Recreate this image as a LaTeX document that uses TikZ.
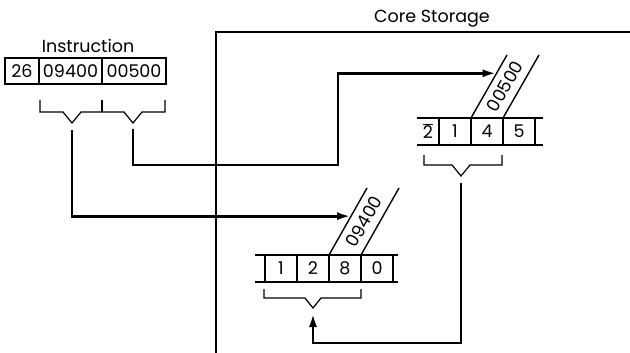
\documentclass[tikz,border=0pt]{standalone}
\usepackage{fontspec}
\setmainfont{Poppins}
\usetikzlibrary{positioning,calc,arrows.meta}

\begin{document}
\begin{tikzpicture}[x=1pt, y=-1pt,
    every node/.style={font=\fontsize{17.5}{20}\selectfont, inner sep=0pt, outer sep=0pt},
    cell/.style={draw, line width=1.4pt, minimum width=32pt, minimum height=27pt},
    rule/.style={line width=1.4pt},
    brace/.style={line width=1.2pt},
    slant/.style={line width=1.4pt},
    wire/.style={line width=2.8pt, -{Latex[length=14pt,width=8pt]}},
    frame/.style={line width=2.4pt}]

    \useasboundingbox (0,0) rectangle (630,353);

    % core storage
    \node (cs) at (432,19) {Core Storage};
    \draw[frame] (630,32) -| (216,353);

    % instruction
    \node (title) at (88,46) {Instruction};
    \node [cell, minimum width=34pt, minimum height=26pt] (op) at (22,71) {26};
    \node [cell, minimum width=63pt, minimum height=26pt, right=0pt of op] (aaddr) {09400};
    \node [cell, minimum width=64pt, minimum height=26pt, right=0pt of aaddr] (baddr) {00500};

    \draw[brace] (40,100) -- (40,112) -- (63,112) -- (72,123) -- (81,112) -- (124,112)
        -- (133,123) -- (142,112) -- (165,112) -- (165,100);
    \draw[brace] (102,112) -- (102,100);
    \coordinate (av) at (72,130);
    \coordinate (bv) at (133,129);

    % b field
    \node [cell] (b1) at (455,131.5) {1};
    \node [cell, right=0pt of b1] (b4) {4};
    \node [cell, right=0pt of b4] (b5) {5};
    \node [minimum width=22pt, minimum height=27pt, left=0pt of b1] (b2) {$\overline{\hbox{2}}$};
    \draw[rule] (b2.north west) -- ([xshift=8pt]b5.north east);
    \draw[rule] (b2.south west) -- ([xshift=8pt]b5.south east);

    \draw[slant] (b4.north west) -- ++(36,-63) coordinate (bslant);
    \draw[slant] (b4.north east) -- ++(36,-63);
    \node [rotate=60] (bval) at ($(b4.north)+(18,-31.5)$) {00500};
    \coordinate (btip) at ($(b4.north west)!0.71!(bslant)$);

    \draw[brace] (424,155) -- (424,165) -- (452,165) -- (461,176) -- (470,165) -- (502,165) -- (502,155);
    \coordinate (mv) at (461,183);

    % a field
    \node [cell] (a1) at (281,268.5) {1};
    \node [cell, right=0pt of a1] (a2) {2};
    \node [cell, right=0pt of a2] (a8) {8};
    \node [cell, right=0pt of a8] (a0) {0};
    \draw[rule] ([xshift=-10pt]a1.north west) -- ([xshift=5pt]a0.north east);
    \draw[rule] ([xshift=-10pt]a1.south west) -- ([xshift=5pt]a0.south east);

    \draw[slant] (a8.north west) -- ++(38,-67) coordinate (aslant);
    \draw[slant] (a8.north east) -- ++(38,-67);
    \node [rotate=60] (aval) at ($(a8.north)+(19,-33.5)$) {09400};
    \coordinate (atip) at ($(a8.north west)!0.58!(aslant)$);

    \draw[brace] (264,289) -- (264,298) -- (305,298) -- (313,308) -- (321,298) -- (361,298) -- (361,289);
    \coordinate (mvia) at (313,343);
    \coordinate (mtip) at (313,313);

    % transfers
    \coordinate (bvia) at (338,165);
    \draw[wire] (av) |- (atip);
    \draw[wire] (bv) |- (bvia) |- (btip);
    \draw[wire] (mv) |- (mvia) -- (mtip);

\end{tikzpicture}
\end{document}
